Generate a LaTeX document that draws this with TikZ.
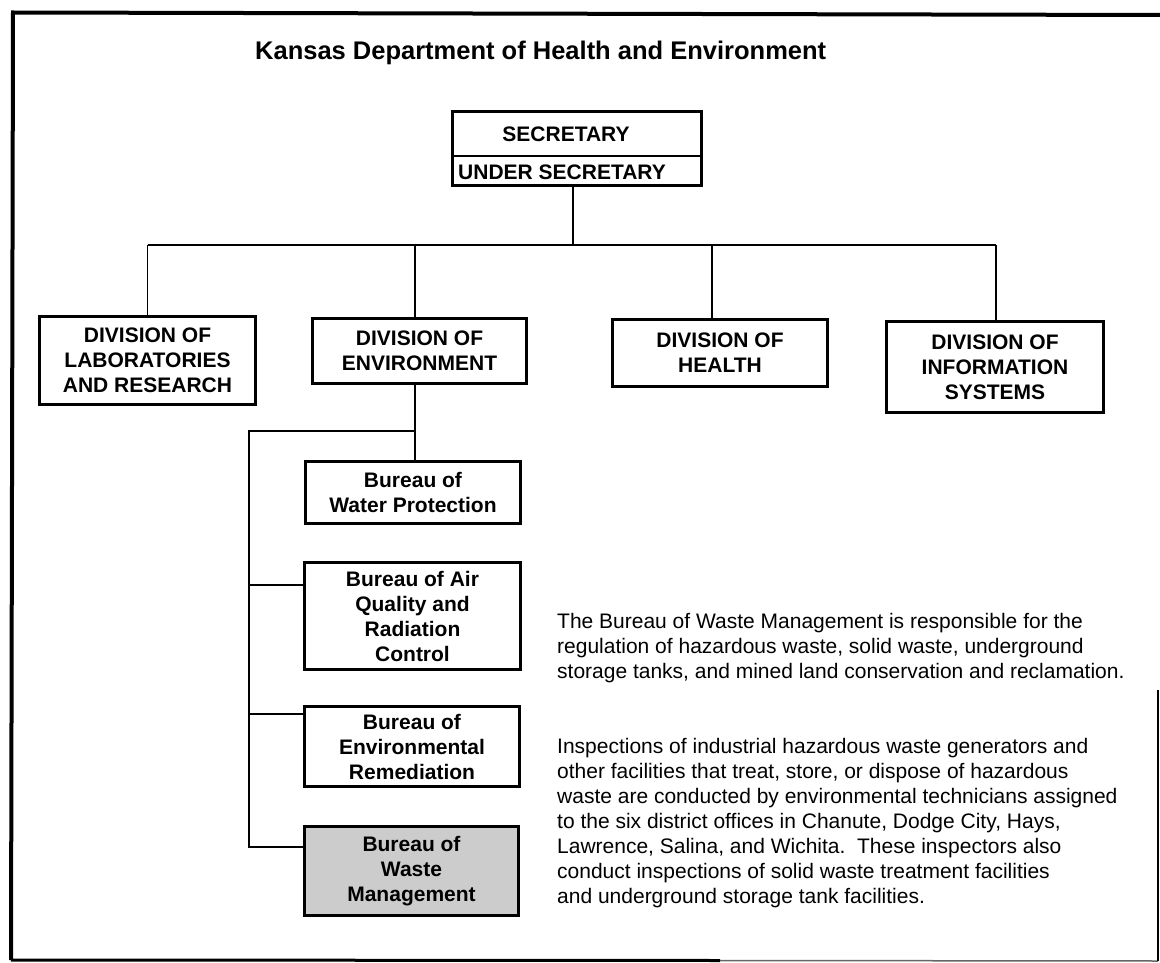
\documentclass[tikz,border=0pt]{standalone}
\usepackage{fontspec}
\setmainfont{Liberation Sans}
\begin{document}
\begin{tikzpicture}[x=1pt,y=-1pt,
  box/.style={draw, line width=3.4pt, align=center, inner sep=0pt, fill=white,
    font=\fontsize{21}{25}\selectfont\bfseries},
  lbl/.style={inner sep=0pt, font=\fontsize{21}{25}\selectfont\bfseries},
  conn/.style={line width=1.6pt},
  frame/.style={line width=4pt},
  para/.style={anchor=north west, inner sep=0pt, align=left, font=\fontsize{21}{25}\selectfont}]
\useasboundingbox (0,0) rectangle (1160,963);
% frame
\draw[frame] (11,960) -- (13,12.5) -- (1160,15);
\draw[line width=3pt] (11,960) -- (720,960.5);
\draw[line width=1.5pt, black!60] (720,960.5) -- (1158,961);
\draw[line width=1.5pt] (1158,690) -- (1158,961);
% title
\node[anchor=base west, inner sep=0pt, font=\fontsize{25.5}{30}\selectfont\bfseries] (title) at (255,60) {Kansas Department of Health and Environment};
% secretary
\node[draw, line width=3pt, minimum width=249pt, minimum height=74pt, inner sep=0pt] (sec) at (577,148.5) {};
\coordinate (divY) at (0,156);
\draw[line width=1.5pt] (sec.west |- divY) -- (sec.east |- divY);
\node[lbl, anchor=base] (secT) at (566,142) {SECRETARY};
\node[lbl, anchor=base west] (usecT) at (458,180) {UNDER SECRETARY};
% divisions
\node[box, minimum width=215.5pt, minimum height=87.5pt] (lab) at (147.5,360.5) {DIVISION OF\\LABORATORIES\\AND RESEARCH};
\node[box, minimum width=213.5pt, minimum height=64.5pt] (env) at (419.5,351) {DIVISION OF\\ENVIRONMENT};
\node[box, minimum width=214.5pt, minimum height=66.5pt] (health) at (720,353) {DIVISION OF\\HEALTH};
\node[box, minimum width=216.5pt, minimum height=90.5pt] (info) at (995,367) {DIVISION OF\\INFORMATION\\SYSTEMS};
% bureaus
\node[box, minimum width=214.5pt, minimum height=61.5pt] (water) at (413,492.5) {Bureau of\\Water Protection};
\node[box, minimum width=215.5pt, minimum height=106.5pt] (air) at (412.5,616) {Bureau of Air\\Quality and\\Radiation\\Control};
\node[box, minimum width=214.5pt, minimum height=79.5pt] (envrem) at (412,746.5) {Bureau of\\Environmental\\Remediation};
\node[box, fill=black!20, minimum width=213.5pt, minimum height=88.5pt] (waste) at (411.5,871) {Bureau of\\Waste\\Management};
% connectors top level
\coordinate (busL) at (147.5,245);
\coordinate (busR) at (996,245);
\coordinate (secDrop) at ([xshift=-4pt]sec.south);
\coordinate (envUp) at ([xshift=-4.5pt]env.north);
\coordinate (healthUp) at ([xshift=-8pt]health.north);
\coordinate (infoUp) at ([xshift=1pt]info.north);
\draw[conn] (busL) -- (busR);
\draw[conn] (secDrop) -- (secDrop |- busL);
\draw[conn] (lab.north) -- (lab.north |- busL);
\draw[conn] (envUp) -- (envUp |- busL);
\draw[conn] (healthUp) -- (healthUp |- busL);
\draw[conn] (infoUp) -- (infoUp |- busR);
% connectors bureaus
\coordinate (envDrop) at ([xshift=-4.5pt]env.south);
\coordinate (bbus) at (249,431);
\coordinate (jA) at (249,585);
\coordinate (jR) at (249,714);
\coordinate (jW) at (249,847);
\draw[conn] (envDrop) -- (envDrop |- water.north);
\draw[conn] (envDrop |- bbus) -- (bbus) -- (jW) -- (jW -| waste.west);
\draw[conn] (jA) -- (jA -| air.west);
\draw[conn] (jR) -- (jR -| envrem.west);
% paragraphs
\node[para] (p1) at (557,613.5) {The Bureau of Waste Management is responsible for the\\
regulation of hazardous waste, solid waste, underground\\
storage tanks, and mined land conservation and reclamation.};
\node[para] (p2) at (557,738.5) {Inspections of industrial hazardous waste generators and\\
other facilities that treat, store, or dispose of hazardous\\
waste are conducted by environmental technicians assigned\\
to the six district offices in Chanute, Dodge City, Hays,\\
Lawrence, Salina, and Wichita.\ \ These inspectors also\\
conduct inspections of solid waste treatment facilities\\
and underground storage tank facilities.};
\end{tikzpicture}
\end{document}
